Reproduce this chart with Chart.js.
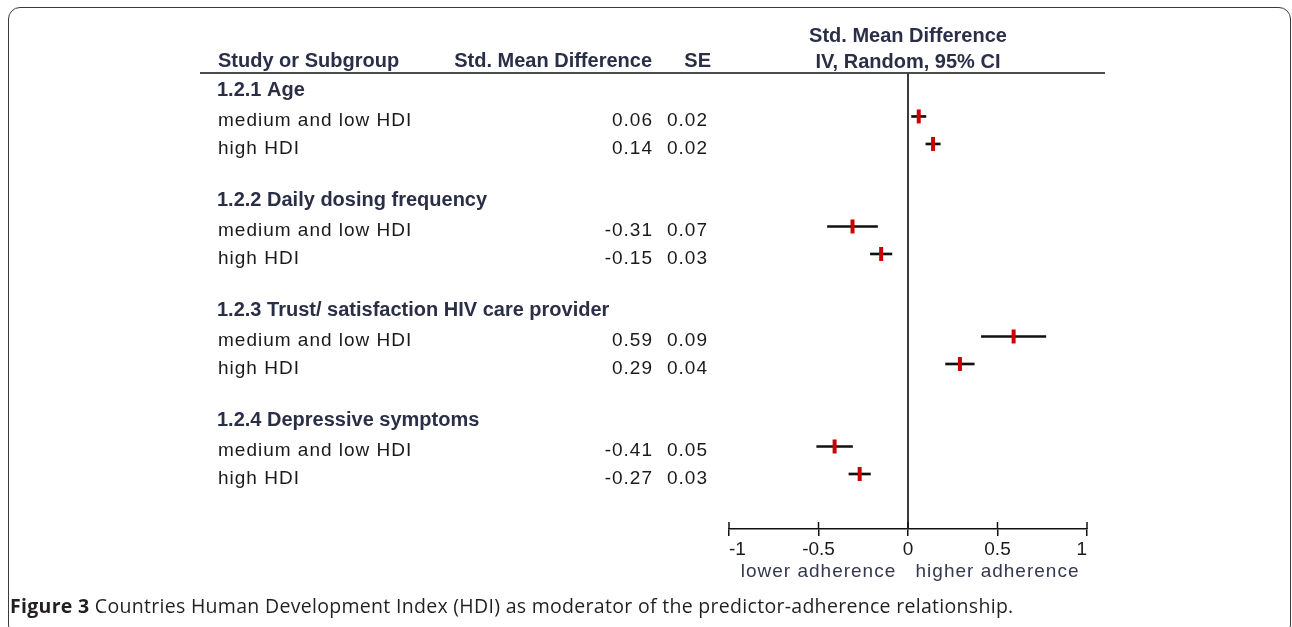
<!DOCTYPE html>
<html>
<head>
<meta charset="utf-8">
<script src="https://cdn.jsdelivr.net/npm/chart.js@4.4.1/dist/chart.umd.min.js"></script>
<style>
  body { margin: 0; background: #fff; width: 1292px; height: 627px; overflow: hidden; position: relative; }
  #frame { position: absolute; left: 8px; top: 7px; width: 1283px; height: 630px; box-sizing: border-box;
           border: 1.5px solid #3a3a3a; border-radius: 12px; }
  #chart { position: absolute; left: 0; top: 0; }
  #caption { position: absolute; left: 10px; top: 594px; font-size: 19.5px; letter-spacing: 0.3px;
             font-family: "Open Sans", sans-serif; color: #231f20; white-space: nowrap; line-height: 24px; }
</style>
</head>
<body>
<div id="frame"></div>
<canvas id="chart" width="1292" height="627"></canvas>
<div id="caption"><b>Figure 3</b> Countries Human Development Index (HDI) as moderator of the predictor-adherence relationship.</div>
<script>
// data
const groupNames = ['1.2.1 Age', '1.2.2 Daily dosing frequency', '1.2.3 Trust/ satisfaction HIV care provider', '1.2.4 Depressive symptoms'];
const subgroupNames = ['medium and low HDI', 'high HDI'];
const smd = [0.06, 0.14, -0.31, -0.15, 0.59, 0.29, -0.41, -0.27];
const se = [0.02, 0.02, 0.07, 0.03, 0.09, 0.04, 0.05, 0.03];
const ciLow = [0.02, 0.10, -0.45, -0.21, 0.41, 0.21, -0.51, -0.33];
const ciHigh = [0.10, 0.18, -0.17, -0.09, 0.77, 0.37, -0.31, -0.21];
const xTicks = [-1, -0.5, 0, 0.5, 1];
const xTitles = ['lower adherence', 'higher adherence'];

// each group = header row, two subgroup rows, one blank row
const studyRows = smd.map((v, i) => Math.floor(i / 2) * 4 + 1 + (i % 2));

const navy = '#2a2f47';
const ink = '#1a1a1a';

const forestText = {
  id: 'forestText',
  beforeDatasetsDraw(chart) {
    const { ctx, chartArea, scales: { x } } = chart;
    ctx.save();
    // header rule
    ctx.strokeStyle = '#111';
    ctx.lineWidth = 1.5;
    ctx.beginPath();
    ctx.moveTo(200, chartArea.top);
    ctx.lineTo(1105, chartArea.top);
    ctx.stroke();
    // line of no effect
    const x0 = x.getPixelForValue(0);
    ctx.strokeStyle = '#3c3c3c';
    ctx.lineWidth = 2;
    ctx.beginPath();
    ctx.moveTo(x0, chartArea.top);
    ctx.lineTo(x0, chartArea.bottom);
    ctx.stroke();
    // upper half of tick marks
    ctx.strokeStyle = '#111';
    ctx.lineWidth = 1.5;
    x.ticks.forEach(t => {
      const px = x.getPixelForValue(t.value);
      ctx.beginPath();
      ctx.moveTo(px, chartArea.bottom - 7);
      ctx.lineTo(px, chartArea.bottom);
      ctx.stroke();
    });
    ctx.restore();
  },
  afterDraw(chart) {
    const { ctx, scales: { x, y } } = chart;
    const x0 = x.getPixelForValue(0);
    ctx.save();
    ctx.textBaseline = 'alphabetic';
    ctx.fillStyle = navy;
    ctx.font = 'bold 20px "Liberation Sans", Arial, sans-serif';
    ctx.textAlign = 'left';
    ctx.fillText('Study or Subgroup', 218, 67);
    ctx.textAlign = 'right';
    ctx.fillText('Std. Mean Difference', 652, 67);
    ctx.fillText('SE', 711, 67);
    ctx.textAlign = 'center';
    ctx.fillText('Std. Mean Difference', x0, 41.5);
    ctx.fillText('IV, Random, 95% CI', x0, 67.5);
    ctx.textAlign = 'left';
    groupNames.forEach((g, gi) => {
      ctx.fillText(g, 217, y.getPixelForValue(gi * 4) + 7);
    });

    ctx.font = '19px "Liberation Sans", Arial, sans-serif';
    ctx.letterSpacing = '1px';
    ctx.fillStyle = ink;
    smd.forEach((v, i) => {
      const py = y.getPixelForValue(studyRows[i]) + 10;
      ctx.textAlign = 'left';
      ctx.fillText(subgroupNames[i % 2], 218, py);
      ctx.textAlign = 'right';
      ctx.fillText(v.toFixed(2), 653, py);
      ctx.fillText(se[i].toFixed(2), 708, py);
    });

    ctx.fillStyle = '#33374f';
    ctx.textAlign = 'center';
    ctx.fillText(xTitles[0], x.getPixelForValue(-0.5), 577);
    ctx.fillText(xTitles[1], x.getPixelForValue(0.5), 577);
    ctx.restore();
  }
};

new Chart(document.getElementById('chart'), {
  type: 'scatter',
  data: {
    datasets: [
      {
        type: 'scatter',
        data: studyRows.map((r, i) => ({ x: smd[i], y: r })),
        pointStyle: 'line',
        rotation: 90,
        radius: 7,
        borderWidth: 4,
        borderColor: '#cc0000',
        backgroundColor: '#cc0000',
        order: 0
      },
      {
        type: 'bar',
        indexAxis: 'y',
        data: studyRows.map((r, i) => ({ x: [ciLow[i], ciHigh[i]], y: r })),
        backgroundColor: '#111',
        borderWidth: 0,
        barThickness: 2,
        order: 1
      }
    ]
  },
  options: {
    responsive: false,
    animation: false,
    events: [],
    layout: { padding: { left: 729, right: 205, top: 73, bottom: 58 } },
    plugins: { legend: { display: false }, tooltip: { enabled: false } },
    scales: {
      x: {
        type: 'linear',
        position: 'bottom',
        min: -1,
        max: 1,
        offset: false,
        afterBuildTicks: s => { s.ticks = xTicks.map(v => ({ value: v })); },
        afterFit: s => { s.height = 40; },
        ticks: {
          align: 'inner',
          maxRotation: 0,
          padding: 2,
          color: ink,
          font: { family: '"Liberation Sans", Arial, sans-serif', size: 19 },
          callback: v => String(v)
        },
        grid: { drawOnChartArea: false, tickLength: 7, color: '#111', lineWidth: 1.5 },
        border: { color: '#111', width: 1.5 }
      },
      y: {
        type: 'linear',
        reverse: true,
        min: -0.58,
        max: 16,
        offset: false,
        display: false
      }
    }
  },
  plugins: [forestText]
});
</script>
</body>
</html>
